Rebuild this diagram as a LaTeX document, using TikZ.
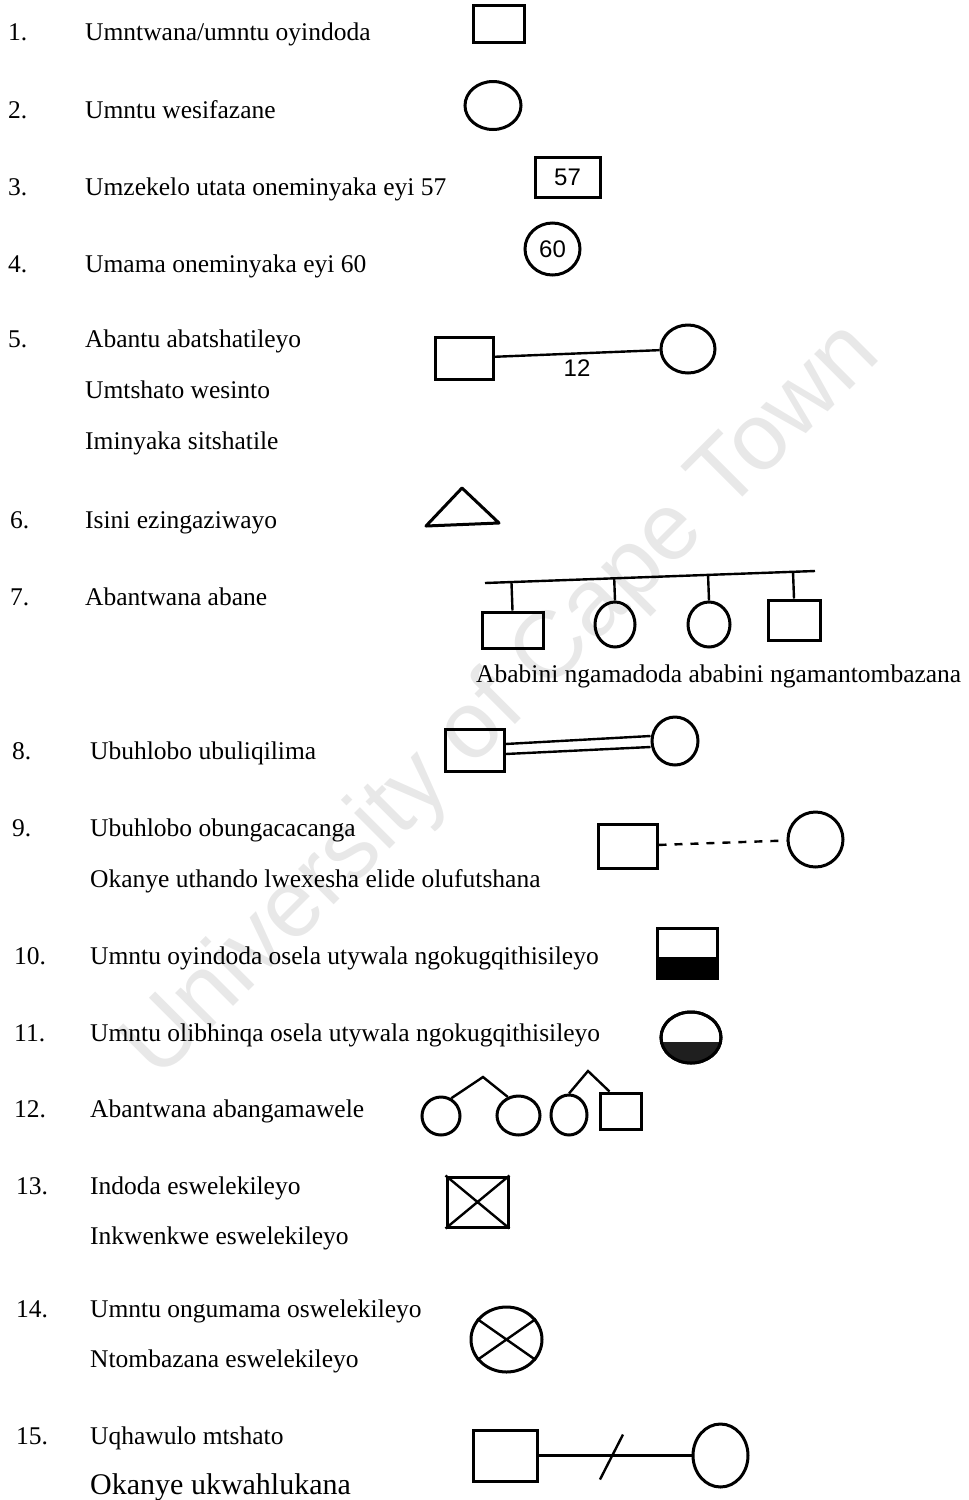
\documentclass[tikz,border=0pt]{standalone}
\usepackage{fontspec}
\setmainfont{Liberation Serif}
\newfontfamily\handfont{Liberation Sans}
\usetikzlibrary{positioning}
\usetikzlibrary{calc}
\usetikzlibrary{shapes.geometric}

\begin{document}
\begin{tikzpicture}[x=1pt,y=-1pt,
		male node/.style={rectangle,draw,line width=3pt,inner sep=0pt},
		female node/.style={ellipse,draw,line width=3pt,inner sep=0pt},
		item/.style={anchor=mid west,inner sep=0pt,yshift=-5pt,font=\fontsize{25.5}{30}\selectfont},
		hand/.style={font=\handfont\fontsize{24}{28}\selectfont},
		link/.style={line width=2.4pt}]

	\useasboundingbox (0,0) rectangle (969,1500);

	% watermark
	\node[rotate=45,text=black!9,font=\handfont\fontsize{95}{100}\selectfont] (mark) at (503,702) {University of Cape Town};

	% legend texts
	\node[item] (n1) at (8,33) {1.};
	\node[item] (t1) at (85,33) {Umntwana/umntu oyindoda};
	\node[item] (n2) at (8,111) {2.};
	\node[item] (t2) at (85,111) {Umntu wesifazane};
	\node[item] (n3) at (8,188) {3.};
	\node[item] (t3) at (85,188) {Umzekelo utata oneminyaka eyi 57};
	\node[item] (n4) at (8,265) {4.};
	\node[item] (t4) at (85,265) {Umama oneminyaka eyi 60};
	\node[item] (n5) at (8,340) {5.};
	\node[item] (t5a) at (85,340) {Abantu abatshatileyo};
	\node[item] (t5b) at (85,391) {Umtshato wesinto};
	\node[item] (t5c) at (85,442) {Iminyaka sitshatile};
	\node[item] (n6) at (10,521) {6.};
	\node[item] (t6) at (85,521) {Isini ezingaziwayo};
	\node[item] (n7) at (10,598) {7.};
	\node[item] (t7) at (85,598) {Abantwana abane};
	\node[item] (cap7) at (476,675) {Ababini ngamadoda ababini ngamantombazana};
	\node[item] (n8) at (12,752) {8.};
	\node[item] (t8) at (90,752) {Ubuhlobo ubuliqilima};
	\node[item] (n9) at (12,829) {9.};
	\node[item] (t9a) at (90,829) {Ubuhlobo obungacacanga};
	\node[item] (t9b) at (90,880) {Okanye uthando lwexesha elide olufutshana};
	\node[item] (n10) at (14,957) {10.};
	\node[item] (t10) at (90,957) {Umntu oyindoda osela utywala ngokugqithisileyo};
	\node[item] (n11) at (14,1034) {11.};
	\node[item] (t11) at (90,1034) {Umntu olibhinqa osela utywala ngokugqithisileyo};
	\node[item] (n12) at (14,1110) {12.};
	\node[item] (t12) at (90,1110) {Abantwana abangamawele};
	\node[item] (n13) at (16,1187) {13.};
	\node[item] (t13a) at (90,1187) {Indoda eswelekileyo};
	\node[item] (t13b) at (90,1237) {Inkwenkwe eswelekileyo};
	\node[item] (n14) at (16,1310) {14.};
	\node[item] (t14a) at (90,1310) {Umntu ongumama oswelekileyo};
	\node[item] (t14b) at (90,1360) {Ntombazana eswelekileyo};
	\node[item] (n15) at (16,1437) {15.};
	\node[item] (t15a) at (90,1437) {Uqhawulo mtshato};
	\node[item,font=\fontsize{30}{34}\selectfont] (t15b) at (90,1487) {Okanye ukwahlukana};

	% symbols 1-4
	\node[male node,minimum width=51pt,minimum height=37pt] (m1) at (498.5,23.5) {};
	\node[female node,minimum width=56pt,minimum height=48pt] (f2) at (493,105.5) {};
	\node[male node,hand,minimum width=65pt,minimum height=40pt] (m3) at (567.5,177) {57};
	\node[female node,hand,minimum width=55pt,minimum height=52pt] (f4) at (552.5,249) {60};

	% 5 married
	\node[male node,minimum width=58pt,minimum height=42pt] (m5) at (464,358) {};
	\node[female node,minimum width=54pt,minimum height=48pt] (f5) at (688,349) {};
	\draw[link] (m5) -- (f5) node[midway,below=2pt,hand] (yrs5) {12};

	% 6 unknown sex
	\draw[line width=3pt,line join=round] (462,488) -- (426,526) -- (499,523) -- cycle;

	% 7 siblings
	\coordinate (sl) at (485,583);
	\coordinate (sr) at (815,571);
	\draw[link] (sl) -- (sr);
	\node[male node,minimum width=61pt,minimum height=36pt] (k1) at (512.5,630) {};
	\node[female node,minimum width=40pt,minimum height=45pt] (k2) at (615,624.5) {};
	\node[female node,minimum width=42pt,minimum height=45pt] (k3) at (709,624.5) {};
	\node[male node,minimum width=52pt,minimum height=40pt] (k4) at (794,620) {};
	\foreach \k in {k1,k2,k3,k4}
		\draw[link] (\k.north) -- ($(sl)!(\k.north)!(sr)$);

	% 8 close relation
	\node[male node,minimum width=59pt,minimum height=42pt] (m8) at (474.5,750) {};
	\node[female node,minimum width=46pt,minimum height=48pt] (f8) at (675,741) {};
	\draw[link] ([yshift=6pt]m8.east) -- ([yshift=5pt]f8.west);
	\draw[link] ([yshift=-4pt]m8.east) -- ([yshift=-6pt]f8.west);

	% 9 unclear relation
	\node[male node,minimum width=59pt,minimum height=44pt] (m9) at (627.5,846) {};
	\node[female node,minimum width=55pt,minimum height=55pt] (f9) at (815.5,839.5) {};
	\draw[link,dash pattern=on 8pt off 8pt] (m9) -- (f9);

	% 10, 11 alcohol
	\node[male node,minimum width=60pt,minimum height=50pt] (m10) at (687,953) {};
	\fill ([yshift=-4pt]m10.west) rectangle (m10.south east);
	\node[female node,minimum width=60pt,minimum height=51pt] (f11) at (691,1037.5) {};
	\begin{scope}
		\clip (f11.center) ellipse [x radius=30,y radius=25.5];
		\fill[black!88] ([yshift=-4.5pt]f11.west) rectangle ([xshift=2pt,yshift=-2pt]f11.south -| f11.east);
	\end{scope}
	\draw[line width=3pt] (f11.center) ellipse [x radius=30,y radius=25.5];

	% 12 twins
	\node[female node,minimum width=38pt,minimum height=38pt] (tw1) at (441,1116) {};
	\node[female node,minimum width=43pt,minimum height=39pt] (tw2) at (518.5,1115.5) {};
	\node[female node,minimum width=36pt,minimum height=40pt] (tw3) at (569,1115) {};
	\node[male node,minimum width=41pt,minimum height=36pt] (tw4) at (620.5,1111) {};
	\coordinate (ap1) at (483,1077);
	\coordinate (ap2) at (588,1071);
	\draw[link] (tw1.60) -- (ap1) -- (tw2.120);
	\draw[link] (tw3.north) -- (ap2) -- ([xshift=11pt]tw4.north west);

	% 13, 14 deceased
	\node[male node,minimum width=61pt,minimum height=50pt] (m13) at (477.5,1202) {};
	\draw[link] (m13.north west) -- (m13.south east) (m13.south west) -- (m13.north east);
	\node[female node,minimum width=71pt,minimum height=65pt] (f14) at (506.5,1339.5) {};
	\draw[link] (f14.145) -- (f14.-35) (f14.215) -- (f14.35);

	% 15 divorce
	\node[male node,minimum width=64pt,minimum height=51pt] (m15) at (505,1455.5) {};
	\node[female node,minimum width=55pt,minimum height=63pt] (f15) at (720.5,1455.5) {};
	\draw[link] (m15) -- coordinate (cut) (f15);
	\draw[link] ([shift={(-15,24)}]cut) -- ([shift={(8,-21)}]cut);
\end{tikzpicture}
\end{document}
